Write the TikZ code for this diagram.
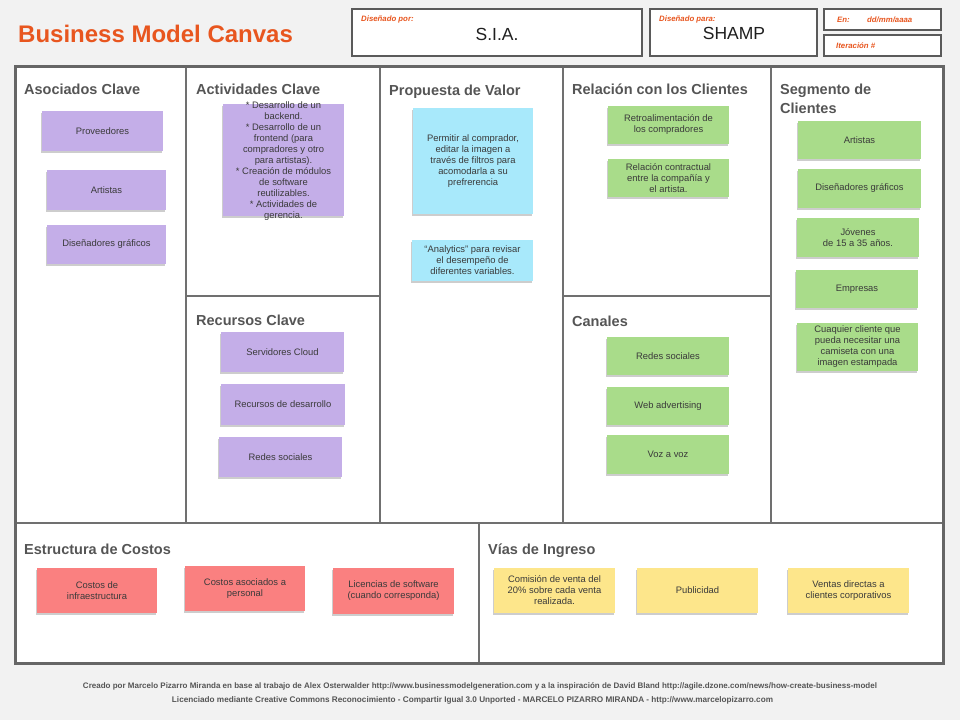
\documentclass[tikz,border=0pt]{standalone}
\usepackage{fontspec}
\setmainfont{Liberation Sans}
\usetikzlibrary{shadows}
\definecolor{bg}{HTML}{F2F2F2}
\definecolor{framec}{HTML}{666666}
\definecolor{linec}{HTML}{707070}
\definecolor{ttl}{HTML}{555555}
\definecolor{orng}{HTML}{E8561F}
\definecolor{purp}{HTML}{C4AEE8}
\definecolor{blu}{HTML}{A8E9FB}
\definecolor{grn}{HTML}{A9DC8A}
\definecolor{rd}{HTML}{FA8080}
\definecolor{yel}{HTML}{FDE68B}
\definecolor{ntxt}{HTML}{3A3A3A}
\definecolor{hbox}{HTML}{5A5A5A}
\definecolor{foot}{HTML}{555555}
\begin{document}
\begin{tikzpicture}[x=1pt,y=-1pt,
  sect/.style={anchor=base west, inner sep=0pt, font=\fontsize{14.5}{17}\selectfont\bfseries, text=ttl},
  note/.style={draw=none, inner sep=1pt, align=center, text=ntxt,
    font=\fontsize{9.4}{11}\selectfont,
    drop shadow={shadow xshift=-1pt, shadow yshift=-1.6pt, opacity=0.28, fill=black!70}},
  ntext/.style={inner sep=0pt, align=center, text=ntxt, font=\fontsize{9.4}{11}\selectfont},
  pnote/.style={note, fill=purp},
  bnote/.style={note, fill=blu},
  gnote/.style={note, fill=grn},
  rnote/.style={note, fill=rd},
  ynote/.style={note, fill=yel},
  hdrbox/.style={draw=hbox, line width=1.1pt, fill=white},
  hlabel/.style={anchor=west, inner sep=0pt, text=orng, font=\fontsize{7.8}{9}\selectfont\bfseries\itshape},
  hvalue/.style={inner sep=0pt, text=black!88, font=\fontsize{17.5}{20}\selectfont},
  grid/.style={draw=linec, line width=1.6pt},
  footer/.style={inner sep=0pt, text=foot, font=\fontsize{7.5}{9}\selectfont\bfseries}
]
% background and bounding box
\fill[bg] (0,0) rectangle (960,720);
\useasboundingbox (0,0) rectangle (960,720);

% title
\node[anchor=west, inner sep=0pt, text=orng, font=\fontsize{24}{28}\selectfont\bfseries] (title) at (18,34) {Business Model Canvas};

% header boxes
\draw[hdrbox] (352,9) rectangle (642,56);
\draw[hdrbox] (650,9) rectangle (817,56);
\draw[hdrbox] (824,9) rectangle (941,30);
\draw[hdrbox] (824,35) rectangle (941,56);
\node[hlabel] (lpor) at (361,19) {Diseñado por:};
\node[hvalue] (vpor) at (497,34) {S.I.A.};
\node[hlabel] (lpara) at (659,19) {Diseñado para:};
\node[hvalue] (vpara) at (734,33.5) {SHAMP};
\node[hlabel] (len) at (837,20) {En:};
\node[hlabel] (vdate) at (867,20) {dd/mm/aaaa};
\node[hlabel] (liter) at (836,45.5) {Iteración \#};

% canvas
\fill[white] (15,66) rectangle (943,663);
\draw[grid] (186,66) -- (186,523);
\draw[grid] (380,66) -- (380,523);
\draw[grid] (563,66) -- (563,523);
\draw[grid] (771,66) -- (771,523);
\draw[grid] (15,523) -- (943,523);
\draw[grid] (186,296) -- (380,296);
\draw[grid] (563,296) -- (771,296);
\draw[grid] (479,523) -- (479,663);
\draw[draw=framec, line width=3pt] (15,66) rectangle (943,663);

% section titles
\node[sect] (tac) at (24,94) {Asociados Clave};
\node[sect] (tak) at (196,94) {Actividades Clave};
\node[sect] (tpv) at (389,95) {Propuesta de Valor};
\node[sect] (trc) at (572,94) {Relación con los Clientes};
\node[sect] (tsc) at (780,94) {Segmento de};
\node[sect] (tsc2) at (780,113) {Clientes};
\node[sect] (trk) at (196,325) {Recursos Clave};
\node[sect] (tca) at (572,326) {Canales};
\node[sect] (tec) at (24,554) {Estructura de Costos};
\node[sect] (tvi) at (488,554) {Vías de Ingreso};

% Asociados Clave
\node[pnote, minimum width=121pt, minimum height=40pt] (a1) at (102.5,131) {Proveedores};
\node[pnote, minimum width=119pt, minimum height=40pt] (a2) at (106.5,190) {Artistas};
\node[pnote, minimum width=119pt, minimum height=39pt] (a3) at (106.5,244.5) {Diseñadores gráficos};

% Actividades Clave
\node[pnote, minimum width=121pt, minimum height=112pt] (k1) at (283.5,160) {};
\node[ntext] (k1t) at (283.5,161) {* Desarrollo de un\\backend.\\* Desarrollo de un\\frontend (para\\compradores y otro\\para artistas).\\* Creación de módulos\\de software\\reutilizables.\\* Actividades de\\gerencia.};

% Propuesta de Valor
\node[bnote, minimum width=120pt, minimum height=106pt] (v1) at (473,161) {Permitir al comprador,\\editar la imagen a\\través de filtros para\\acomodarla a su\\prefrerencia};
\node[bnote, minimum width=121pt, minimum height=41pt] (v2) at (472.5,260.5) {``Analytics'' para revisar\\el desempeño de\\diferentes variables.};

% Recursos Clave
\node[pnote, minimum width=123pt, minimum height=40pt] (r1) at (282.5,352) {Servidores Cloud};
\node[pnote, minimum width=124pt, minimum height=41pt] (r2) at (283,404.5) {Recursos de desarrollo};
\node[pnote, minimum width=123pt, minimum height=40pt] (r3) at (280.5,457) {Redes sociales};

% Relacion con los Clientes
\node[gnote, minimum width=121pt, minimum height=38pt] (c1) at (668.5,125) {Retroalimentación de\\los compradores};
\node[gnote, minimum width=121pt, minimum height=38pt] (c2) at (668.5,178) {Relación contractual\\entre la compañía y\\el artista.};

% Canales
\node[gnote, minimum width=122pt, minimum height=38pt] (h1) at (668,356) {Redes sociales};
\node[gnote, minimum width=122pt, minimum height=38pt] (h2) at (668,406) {Web advertising};
\node[gnote, minimum width=122pt, minimum height=39pt] (h3) at (668,454.5) {Voz a voz};

% Segmento de Clientes
\node[gnote, minimum width=123pt, minimum height=38pt] (s1) at (859.5,140) {Artistas};
\node[gnote, minimum width=123pt, minimum height=39pt] (s2) at (859.5,188.5) {Diseñadores gráficos};
\node[gnote, minimum width=122pt, minimum height=39pt] (s3) at (858,237.5) {Jóvenes\\de 15 a 35 años.};
\node[gnote, minimum width=122pt, minimum height=38pt] (s4) at (857,289) {Empresas};
\node[gnote, minimum width=121pt, minimum height=48pt] (s5) at (857.5,347) {Cuaquier cliente que\\pueda necesitar una\\camiseta con una\\imagen estampada};

% Estructura de Costos
\node[rnote, minimum width=120pt, minimum height=45pt] (e1) at (97,590.5) {Costos de\\infraestructura};
\node[rnote, minimum width=120pt, minimum height=45pt] (e2) at (245,588.5) {Costos asociados a\\personal};
\node[rnote, minimum width=121pt, minimum height=46pt] (e3) at (393.5,591) {Licencias de software\\(cuando corresponda)};

% Vias de Ingreso
\node[ynote, minimum width=121pt, minimum height=45pt] (i1) at (554.5,590.5) {Comisión de venta del\\20\% sobre cada venta\\realizada.};
\node[ynote, minimum width=121pt, minimum height=45pt] (i2) at (697.5,590.5) {Publicidad};
\node[ynote, minimum width=121pt, minimum height=45pt] (i3) at (848.5,590.5) {Ventas directas a\\clientes corporativos};

% footer
\node[footer] (f1) at (480,686) {\resizebox{794pt}{!}{Creado por Marcelo Pizarro Miranda en base al trabajo de Alex Osterwalder http://www.businessmodelgeneration.com y a la inspiración de David Bland http://agile.dzone.com/news/how-create-business-model}};
\node[footer] (f2) at (472.5,700) {\resizebox{601pt}{!}{Licenciado mediante Creative Commons Reconocimiento - Compartir Igual 3.0 Unported - MARCELO PIZARRO MIRANDA - http://www.marcelopizarro.com}};
\end{tikzpicture}
\end{document}
